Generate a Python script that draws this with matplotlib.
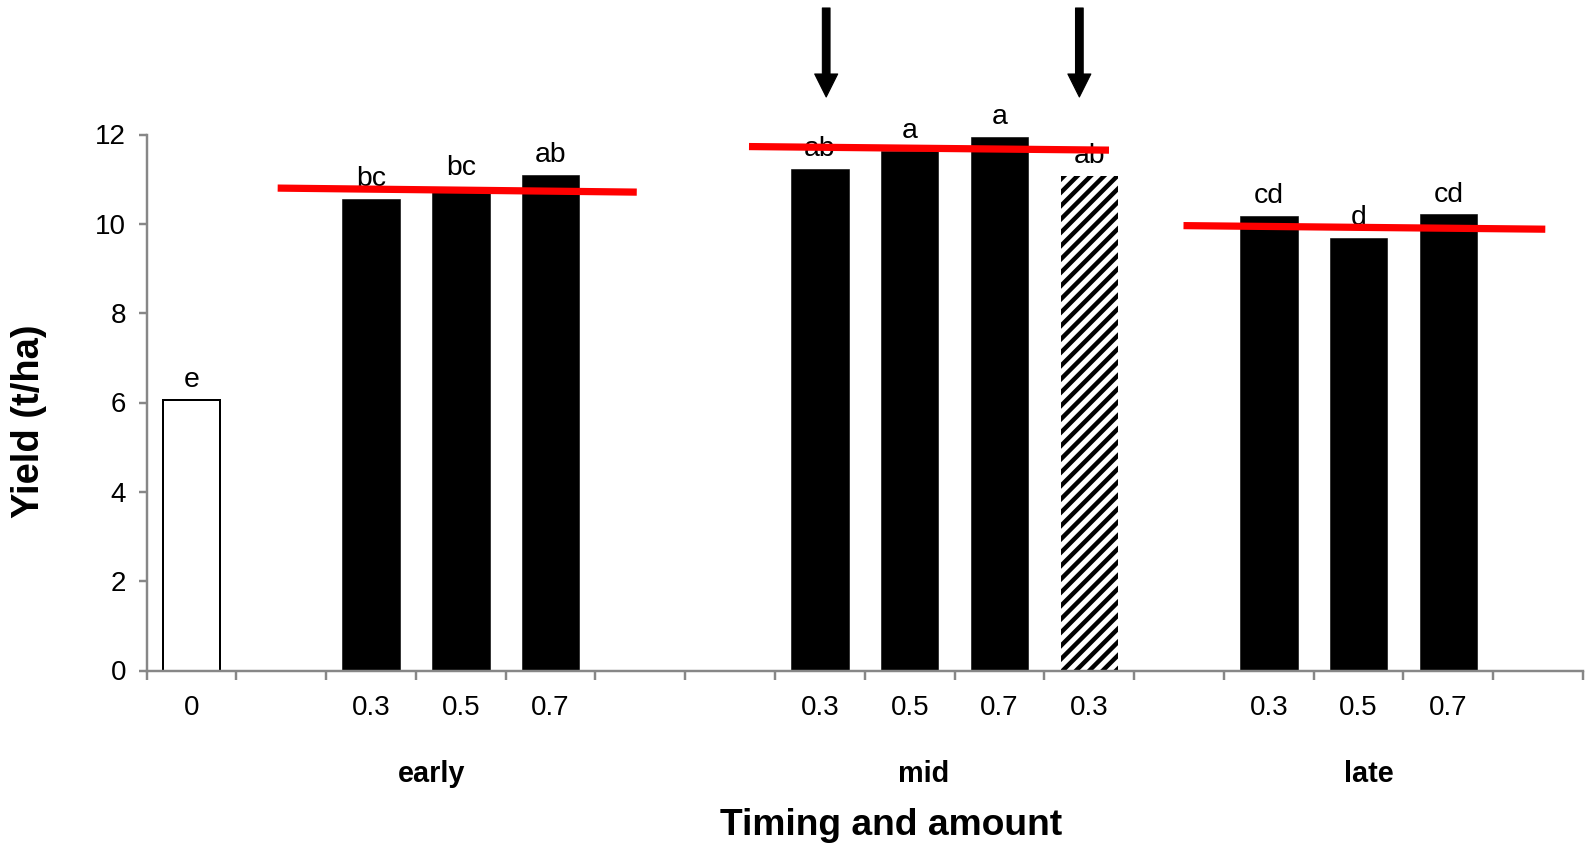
import numpy as np
import matplotlib
matplotlib.use("Agg")
import matplotlib.pyplot as plt
from matplotlib.transforms import blended_transform_factory

# ---- data ----
categories = ['0', '', '0.3', '0.5', '0.7', '', '', '0.3', '0.5', '0.7', '0.3', '', '0.3', '0.5', '0.7', '']
yields = [6.05, np.nan, 10.55, 10.80, 11.09, np.nan, np.nan, 11.23, 11.63, 11.95, 11.08, np.nan, 10.17, 9.69, 10.21, np.nan]
letters = ['e', '', 'bc', 'bc', 'ab', '', '', 'ab', 'a', 'a', 'ab', '', 'cd', 'd', 'cd', '']
kinds = ['control', '', 'single', 'single', 'single', '', '', 'single', 'single', 'single', 'split', '', 'single', 'single', 'single', '']
group_names = ['early', 'mid', 'late']
group_centers = [2.67, 8.16, 13.12]
trend_x0 = [0.96, 6.21, 11.05]
trend_x1 = [4.96, 10.22, 15.08]
trend_y0 = [10.80, 11.73, 9.96]
trend_y1 = [10.71, 11.65, 9.88]
arrow_x = [7.07, 9.89]
yticks = [0, 2, 4, 6, 8, 10, 12]

DPI = 80
W, H = 1585, 845
plt.rcParams['font.family'] = ['Liberation Sans', 'DejaVu Sans']
plt.rcParams['hatch.linewidth'] = 4.0

fig = plt.figure(figsize=(W / DPI, H / DPI), dpi=DPI)
ax_left, ax_right = 146.6 / W, 1583 / W
ax_bot, ax_top = (H - 670.5) / H, (H - 134.5) / H
ax = fig.add_axes([ax_left, ax_bot, ax_right - ax_left, ax_top - ax_bot])

x = np.arange(len(categories))
bw = 0.64
for xi, v, k in zip(x, yields, kinds):
    if np.isnan(v):
        continue
    if k == 'control':
        ax.bar(xi, v, width=bw, facecolor='white', edgecolor='black', linewidth=1.8, zorder=2)
    elif k == 'split':
        ax.bar(xi, v, width=bw, facecolor='white', edgecolor='black', linewidth=0, hatch='//', zorder=2)
    else:
        ax.bar(xi, v, width=bw, facecolor='black', edgecolor='black', linewidth=0.5, zorder=2)

for xi, v, t in zip(x, yields, letters):
    if t and not np.isnan(v):
        ax.annotate(t, xy=(xi, v), xytext=(0, 11.5), textcoords='offset points',
                    ha='center', va='baseline', fontsize=25.5, color='black', zorder=3)

for a, b, c, d in zip(trend_x0, trend_x1, trend_y0, trend_y1):
    ax.plot([a, b], [c, d], color='#ff0000', linewidth=6.5, solid_capstyle='butt',
            zorder=5, clip_on=False)

ax.set_ylim(0, 12)
ax.set_xlim(-0.5, -0.5 + (1583 - 146.6) / 90.65)
ax.set_yticks(yticks)
ax.set_yticklabels([str(t) for t in yticks])
ax.set_xticks(np.arange(-0.5, len(categories), 1.0))
ax.set_xticklabels([])
ax.set_xticks(x, labels=categories, minor=True)

spine_c = '#878787'
for s in ['top', 'right']:
    ax.spines[s].set_visible(False)
for s in ['left', 'bottom']:
    ax.spines[s].set_color(spine_c)
    ax.spines[s].set_linewidth(2.2)
ax.tick_params(axis='y', which='major', direction='out', length=7.5, width=2.2,
               color=spine_c, labelsize=25, pad=11)
ax.tick_params(axis='x', which='major', direction='out', length=8, width=2.2, color=spine_c)
ax.tick_params(axis='x', which='minor', length=0, labelsize=25, pad=22)

tr = blended_transform_factory(ax.transData, fig.transFigure)
for name, cx in zip(group_names, group_centers):
    ax.text(cx, 1 - 781.7 / H, name, transform=tr, ha='center', va='baseline',
            fontsize=26, fontweight='bold')

fig.text(891 / W, 1 - 835 / H, 'Timing and amount', ha='center', va='baseline',
         fontsize=33.5, fontweight='bold')
fig.text(29 / W, 1 - 421 / H, 'Yield (t/ha)', ha='center', va='center', rotation=90,
         fontsize=34.3, fontweight='bold')

for axx in arrow_x:
    ax.annotate('', xy=(axx, 1 - 97 / H), xycoords=tr, xytext=(axx, 1 - 8 / H), textcoords=tr,
                arrowprops=dict(width=6.9, headwidth=20.7, headlength=20.7,
                                facecolor='black', edgecolor='black', shrink=0))

fig.savefig('out.png', dpi=DPI)
